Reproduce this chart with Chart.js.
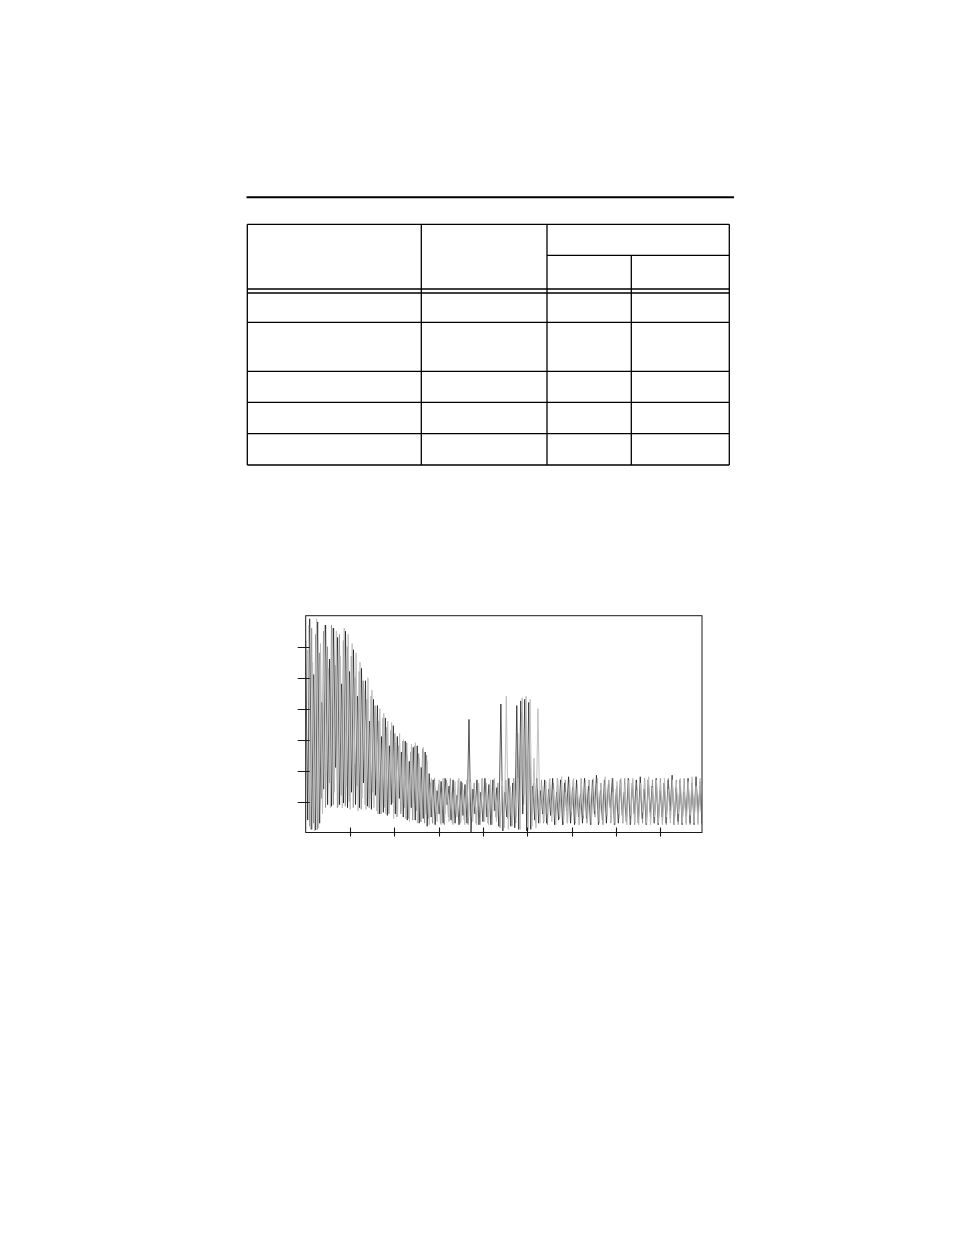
<!DOCTYPE html>
<html>
<head>
<meta charset="utf-8">
<script src="https://cdn.jsdelivr.net/npm/chart.js@4/dist/chart.umd.min.js"></script>
<style>
  html, body { margin: 0; padding: 0; background: #fff; }
  body { width: 954px; height: 1235px; position: relative; overflow: hidden; }
  #page { position: absolute; left: 0; top: 0; }
  #spectrum { position: absolute; left: 270px; top: 600px; }
</style>
</head>
<body>
<svg id="page" width="954" height="1235" xmlns="http://www.w3.org/2000/svg">
  <line x1="246.5" y1="197.3" x2="734" y2="197.3" stroke="#000" stroke-width="2"/>
  <g stroke="#000" stroke-width="1.3">
    <line x1="247.3" y1="224.3" x2="729.3" y2="224.3"/>
    <line x1="547" y1="255.3" x2="729.3" y2="255.3"/>
    <line x1="247.3" y1="289" x2="729.3" y2="289"/>
    <line x1="247.3" y1="293" x2="729.3" y2="293"/>
    <line x1="247.3" y1="322.3" x2="729.3" y2="322.3"/>
    <line x1="247.3" y1="371.3" x2="729.3" y2="371.3"/>
    <line x1="247.3" y1="402.3" x2="729.3" y2="402.3"/>
    <line x1="247.3" y1="433.6" x2="729.3" y2="433.6"/>
    <line x1="247.3" y1="465" x2="729.3" y2="465"/>
    <line x1="247.3" y1="224.3" x2="247.3" y2="465"/>
    <line x1="421.3" y1="224.3" x2="421.3" y2="465"/>
    <line x1="547" y1="224.3" x2="547" y2="465"/>
    <line x1="631.3" y1="255.3" x2="631.3" y2="465"/>
    <line x1="729.3" y1="224.3" x2="729.3" y2="465"/>
  </g>
</svg>
<canvas id="spectrum" width="450" height="250"></canvas>
<script>
// axis ranges and where the little tick marks sit
const xMax = 8.94;
const yMax = 7;
const xTickValues = [1, 2, 3, 4, 5, 6, 7, 8];
const yTickValues = [1, 2, 3, 4, 5, 6];

// dark trace, alternating peak / trough, read left to right
const darkStart = 0;
const darkValues = [
  6.2, 0.4, 6.9, 0.1, 5.1, 0.08, 6.8, 0.3, 4.2, 1.4, 6.7, 0.9, 5.6, 0.85, 6.6, 2.1, 6.3, 0.9, 4.8, 0.95,
  6.5, 0.8, 5.2, 1.3, 5.9, 0.9, 4.4, 0.8, 5.3, 1.6, 4.9, 0.85, 3.6, 0.75, 4.3, 1.2, 4.1, 0.6, 3.1, 0.65,
  3.7, 0.55, 2.8, 0.9, 3.45, 0.6, 3.1, 1.1, 2.6, 0.5, 2.95, 0.4, 2.3, 0.8, 2.75, 0.4, 2.8, 0.3, 2.1, 0.45,
  2.6, 0.2, 1.9, 0.5, 1.7, 0.25, 1.35, 0.6, 1.65, 0.3, 1.75, 0.9, 1.5, 0.4, 1.7, 0.3, 1.2, 0.25, 1.65, 0.55,
  1.55, 0.3, 3.65, 0.0, 1.4, 0.6, 1.7, 0.25, 1.3, 0.35, 1.75, 0.5, 1.55, 0.25, 1.7, 0.7, 1.45, 0.2, 4.15, 0.05,
  1.3, 0.5, 1.75, 0.2, 1.6, 0.15, 4.1, 0.1, 4.25, 0.6, 4.3, 0.05, 4.2, 0.1, 1.5, 0.4, 1.75, 0.3, 1.35, 0.6,
  1.7, 0.3, 1.4, 0.55, 1.75, 0.25, 1.3, 0.4, 1.7, 0.25, 1.6, 0.7, 1.8, 0.3, 1.45, 0.25, 1.7, 0.5, 1.25, 0.3,
  1.75, 0.45, 1.5, 0.25, 1.7, 0.6, 1.85, 0.25, 1.35, 0.4, 1.7, 0.3, 1.55, 0.8, 1.75, 0.25, 1.4, 0.3, 1.7, 0.55,
  1.3, 0.35, 1.75, 0.25, 1.6, 0.6, 1.7, 0.3, 1.8, 0.45, 1.4, 0.25, 1.7, 0.65, 1.5, 0.3, 1.75, 0.25, 1.35, 0.5,
  1.6, 0.3, 1.7, 0.7, 1.85, 0.25, 1.45, 0.35, 1.7, 0.25, 1.3, 0.55, 1.75, 0.3, 1.6, 0.25, 1.8, 0.6, 1.5, 0.3
];

// mid grey trace, one sample step after the dark one
const midStart = 0.045;
const midValues = [
  5.9, 0.2, 6.6, 0.3, 6.4, 0.1, 5.8, 1.1, 6.5, 0.8, 6.0, 1.6, 6.7, 0.9, 5.4, 0.8, 6.4, 1.2, 6.2, 0.85,
  6.0, 1.0, 5.7, 0.8, 5.0, 1.5, 5.2, 0.75, 4.9, 0.9, 4.3, 0.8, 4.4, 1.3, 4.1, 0.7, 3.6, 0.6, 3.7, 0.8,
  3.4, 0.6, 3.3, 0.95, 3.2, 0.5, 2.8, 0.6, 2.95, 0.8, 2.9, 0.45, 2.6, 0.4, 2.8, 0.7, 2.55, 0.35, 2.7, 0.3,
  2.5, 0.45, 1.6, 0.3, 1.75, 0.6, 1.55, 0.3, 1.4, 0.25, 1.7, 0.5, 1.75, 0.3, 1.35, 0.6, 1.7, 0.3, 1.6, 0.4,
  1.45, 0.25, 1.7, 0.5, 1.6, 0.3, 1.35, 0.25, 1.75, 0.6, 1.6, 0.3, 1.4, 0.25, 1.7, 0.5, 1.6, 0.15, 1.5, 0.3,
  1.7, 0.45, 1.4, 0.25, 1.75, 0.3, 3.2, 0.6, 3.9, 0.9, 3.6, 0.3, 2.8, 0.4, 1.6, 0.3, 1.4, 0.55, 1.7, 0.3,
  1.5, 0.25, 1.7, 0.6, 1.6, 0.3, 1.75, 0.45, 1.35, 0.25, 1.7, 0.3, 1.55, 0.6, 1.7, 0.3, 1.4, 0.25, 1.75, 0.45,
  1.6, 0.3, 1.7, 0.25, 1.4, 0.5, 1.75, 0.3, 1.6, 0.25, 1.45, 0.65, 1.7, 0.3, 1.75, 0.25, 1.5, 0.45, 1.6, 0.3,
  1.75, 0.5, 1.45, 0.3, 1.7, 0.25, 1.6, 0.55, 1.35, 0.3, 1.75, 0.25, 1.6, 0.45, 1.7, 0.3, 1.4, 0.6, 1.75, 0.3,
  1.5, 0.25, 1.75, 0.45, 1.6, 0.3, 1.7, 0.25, 1.4, 0.6, 1.75, 0.3, 1.6, 0.25, 1.45, 0.5, 1.7, 0.3, 1.65, 0.25
];

// light grey trace, one and a half steps after the dark one
const lightStart = 0.067;
const lightValues = [
  6.7, 0.1, 5.5, 0.05, 6.9, 0.15, 6.1, 0.6, 6.7, 1.8, 5.3, 0.8, 6.6, 1.3, 6.5, 0.85, 5.7, 0.8, 6.6, 1.5,
  6.4, 0.75, 6.1, 2.2, 5.8, 0.7, 5.5, 1.1, 4.6, 0.75, 5.0, 1.4, 4.6, 0.8, 3.7, 0.6, 4.0, 0.9, 3.85, 0.6,
  3.6, 1.2, 3.55, 0.45, 2.9, 0.55, 3.2, 0.7, 3.0, 0.45, 2.5, 0.35, 2.85, 1.0, 2.9, 0.3, 2.4, 0.35, 2.75, 0.6,
  2.3, 0.25, 1.75, 0.8, 1.45, 0.35, 1.7, 0.25, 1.75, 0.6, 1.6, 0.35, 1.3, 0.25, 1.65, 0.5, 1.75, 0.35, 1.4, 0.25,
  1.7, 0.5, 1.65, 0.35, 1.25, 0.25, 1.6, 0.7, 1.7, 0.35, 1.45, 0.25, 1.7, 0.55, 1.75, 0.35, 1.3, 0.2, 1.7, 0.15,
  4.4, 0.1, 1.5, 0.2, 1.6, 0.5, 1.75, 0.1, 4.35, 1.2, 4.4, 0.1, 4.3, 0.2, 2.4, 0.15, 4.0, 0.3, 1.5, 0.35,
  1.65, 0.6, 1.75, 0.35, 1.4, 0.25, 1.7, 0.5, 1.8, 0.35, 1.3, 0.3, 1.7, 0.65, 1.75, 0.35, 1.45, 0.3, 1.6, 0.55,
  1.7, 0.35, 1.35, 0.3, 1.75, 0.7, 1.6, 0.35, 1.5, 0.3, 1.8, 0.55, 1.6, 0.35, 1.3, 0.3, 1.65, 0.6, 1.75, 0.3,
  1.4, 0.25, 1.7, 0.55, 1.75, 0.3, 1.35, 0.25, 1.6, 0.65, 1.7, 0.3, 1.8, 0.25, 1.45, 0.5, 1.7, 0.3, 1.6, 0.25,
  1.75, 0.5, 1.4, 0.3, 1.7, 0.25, 1.6, 0.6, 1.75, 0.3, 1.35, 0.25, 1.65, 0.55, 1.8, 0.3, 1.5, 0.25, 1.75, 0.35
];

// sample grid (x position of every reading)
function toPoints(values, start) {
  const step = (xMax - start) / (values.length - 1);
  return values.map((v, i) => ({ x: start + i * step, y: v }));
}

// frame box plus the small ticks that cross the axes
const frame = {
  id: 'frame',
  afterDraw(chart) {
    const { ctx, chartArea: a, scales } = chart;
    ctx.save();
    ctx.strokeStyle = '#1a1a1a';
    ctx.lineWidth = 1;
    ctx.strokeRect(a.left, a.top, a.right - a.left, a.bottom - a.top);
    ctx.lineWidth = 1.1;
    ctx.beginPath();
    scales.y.ticks.forEach(t => {
      const py = Math.round(scales.y.getPixelForValue(t.value)) + 0.5;
      ctx.moveTo(a.left - 8, py);
      ctx.lineTo(a.left + 4, py);
    });
    scales.x.ticks.forEach(t => {
      const px = Math.round(scales.x.getPixelForValue(t.value)) + 0.5;
      ctx.moveTo(px, a.bottom - 5);
      ctx.lineTo(px, a.bottom + 4);
    });
    ctx.stroke();
    ctx.restore();
  }
};

const ctx = document.getElementById('spectrum');
new Chart(ctx, {
  type: 'line',
  data: {
    datasets: [
      {
        data: toPoints(lightValues, lightStart),
        borderColor: '#bababa',
        borderWidth: 0.9
      },
      {
        data: toPoints(midValues, midStart),
        borderColor: '#777',
        borderWidth: 0.6
      },
      {
        data: toPoints(darkValues, darkStart),
        borderColor: '#111',
        borderWidth: 0.7
      }
    ]
  },
  options: {
    responsive: false,
    animation: false,
    devicePixelRatio: 1,
    layout: { padding: { top: 15.7, right: 18, left: 0, bottom: 0 } },
    elements: { point: { radius: 0 }, line: { tension: 0 } },
    plugins: { legend: { display: false }, tooltip: { enabled: false } },
    scales: {
      x: {
        type: 'linear',
        min: 0,
        max: xMax,
        ticks: { display: false },
        grid: { display: false },
        border: { display: false },
        afterBuildTicks(scale) { scale.ticks = xTickValues.map(v => ({ value: v })); },
        afterFit(scale) { scale.height = 17.5; }
      },
      y: {
        min: 0,
        max: yMax,
        ticks: { display: false },
        grid: { display: false },
        border: { display: false },
        afterBuildTicks(scale) { scale.ticks = yTickValues.map(v => ({ value: v })); },
        afterFit(scale) { scale.width = 35.7; }
      }
    }
  },
  plugins: [frame]
});
</script>
</body>
</html>
